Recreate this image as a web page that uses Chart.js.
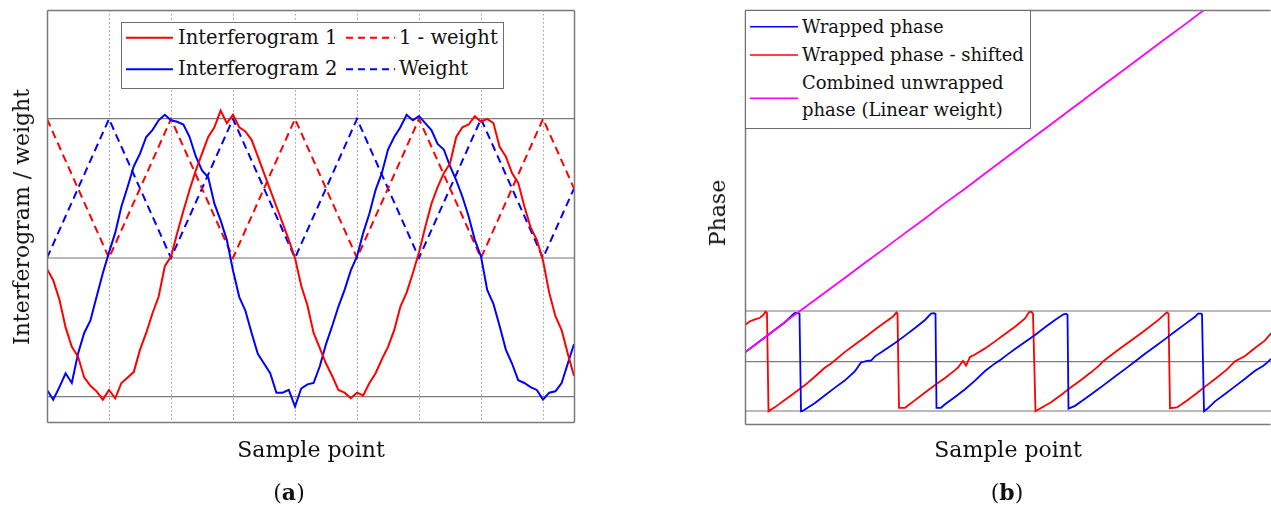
<!DOCTYPE html>
<html>
<head>
<meta charset="utf-8">
<script src="https://cdn.jsdelivr.net/npm/chart.js@4.4.0/dist/chart.umd.js"></script>
<style>
  html, body { margin: 0; padding: 0; background: #fff; }
  body { width: 1271px; height: 513px; position: relative; overflow: hidden;
         font-family: "DejaVu Serif", serif; color: #111; }
  .lbl { position: absolute; white-space: nowrap; line-height: 1; transform: translate(-50%, -50%); font-size: 22px; }
  .rot { transform: translate(-50%, -50%) rotate(-90deg); }
  #wrapA { position: absolute; left: 0; top: 0; width: 600px; height: 440px; }
  #wrapB { position: absolute; left: 650px; top: 0; width: 621px; height: 440px; }
  .legend { position: absolute; background: #fff; border: 1px solid #6e6e6e; }
  .legend svg { position: absolute; left: 0; top: 0; overflow: visible; }
  .legend span { position: absolute; white-space: nowrap; line-height: 1; transform: translateY(-50%); }
  #legA { left: 121px; top: 22px; width: 381px; height: 65px; font-size: 19.5px; }
  #legB { left: 745px; top: 10px; width: 284px; height: 117px; font-size: 18px; }
</style>
</head>
<body>
<div id="wrapA"><canvas id="chartA" width="600" height="440"></canvas></div>
<div id="wrapB"><canvas id="chartB" width="621" height="440"></canvas></div>

<div class="lbl rot" style="left:22px; top:217px;">Interferogram / weight</div>
<div class="lbl" style="left:311px; top:450px;">Sample point</div>
<div class="lbl" style="left:289px; top:492px;">(<b>a</b>)</div>
<div class="lbl rot" style="left:718px; top:213px;">Phase</div>
<div class="lbl" style="left:1008px; top:450px;">Sample point</div>
<div class="lbl" style="left:1007px; top:492px;">(<b>b</b>)</div>

<div class="legend" id="legA">
  <svg width="381" height="65">
    <line x1="4" y1="14.7" x2="51" y2="14.7" stroke="#ff0000" stroke-width="2"/>
    <line x1="4" y1="46.3" x2="51" y2="46.3" stroke="#0000ff" stroke-width="2"/>
    <line x1="224" y1="14.7" x2="273" y2="14.7" stroke="#ff0000" stroke-width="2" stroke-dasharray="7,5"/>
    <line x1="224" y1="46.3" x2="273" y2="46.3" stroke="#0000ff" stroke-width="2" stroke-dasharray="7,5"/>
  </svg>
  <span style="left:56px; top:14.7px;">Interferogram 1</span>
  <span style="left:56px; top:46.3px;">Interferogram 2</span>
  <span style="left:277px; top:14.7px;">1 - weight</span>
  <span style="left:277px; top:46.3px;">Weight</span>
</div>

<div class="legend" id="legB">
  <svg width="284" height="117">
    <line x1="4" y1="15.7" x2="52" y2="15.7" stroke="#0000ff" stroke-width="1.5"/>
    <line x1="4" y1="44" x2="52" y2="44" stroke="#ff0000" stroke-width="1.5"/>
    <line x1="4" y1="87.3" x2="52" y2="87.3" stroke="#ff00ff" stroke-width="1.5"/>
  </svg>
  <span style="left:56px; top:15.7px;">Wrapped phase</span>
  <span style="left:56px; top:44px;">Wrapped phase - shifted</span>
  <span style="left:56px; top:71.7px;">Combined unwrapped</span>
  <span style="left:56px; top:99px;">phase (Linear weight)</span>
</div>

<script>
// ---- panel (a): x in units of the dotted grid spacing ----
const sampleA = [
  0, 0.1, 0.2, 0.3, 0.4, 0.5, 0.6, 0.7, 0.8, 0.9,
  1, 1.1, 1.2, 1.3, 1.4, 1.5, 1.6, 1.7, 1.8, 1.9,
  2, 2.1, 2.2, 2.3, 2.4, 2.5, 2.6, 2.7, 2.8, 2.9,
  3, 3.1, 3.2, 3.3, 3.4, 3.5, 3.6, 3.7, 3.8, 3.9,
  4, 4.1, 4.2, 4.3, 4.4, 4.5, 4.6, 4.7, 4.8, 4.9,
  5, 5.1, 5.2, 5.3, 5.4, 5.5, 5.6, 5.7, 5.8, 5.9,
  6, 6.1, 6.2, 6.3, 6.4, 6.5, 6.6, 6.7, 6.8, 6.9,
  7, 7.1, 7.2, 7.3, 7.4, 7.5, 7.6, 7.7, 7.8, 7.9,
  8, 8.1, 8.2, 8.3, 8.4, 8.5
];
const interferogram1 = [
  0.46, 0.42, 0.35, 0.25, 0.18, 0.145, 0.07, 0.04, 0.02, -0.01,
  0.025, -0.005, 0.05, 0.07, 0.09, 0.17, 0.23, 0.30, 0.36, 0.47,
  0.505, 0.59, 0.67, 0.745, 0.815, 0.875, 0.935, 0.97, 1.03, 0.985,
  1.015, 0.97, 0.955, 0.925, 0.865, 0.805, 0.745, 0.685, 0.625, 0.565,
  0.50, 0.40, 0.33, 0.23, 0.175, 0.12, 0.075, 0.025, 0.015, -0.005,
  0.015, 0.005, 0.05, 0.085, 0.135, 0.18, 0.24, 0.325, 0.375, 0.445,
  0.52, 0.61, 0.695, 0.755, 0.805, 0.84, 0.935, 0.97, 0.98, 1.01,
  0.99, 1.0, 0.985, 0.90, 0.865, 0.805, 0.77, 0.685, 0.61, 0.565,
  0.49, 0.375, 0.29, 0.24, 0.155, 0.075
];
const interferogram2 = [
  0.025, -0.01, 0.035, 0.085, 0.05, 0.155, 0.23, 0.275, 0.36, 0.445,
  0.52, 0.59, 0.685, 0.755, 0.83, 0.875, 0.935, 0.96, 0.995, 1.015,
  0.995, 0.99, 0.98, 0.935, 0.865, 0.815, 0.79, 0.695, 0.635, 0.565,
  0.455, 0.36, 0.31, 0.23, 0.155, 0.12, 0.085, 0.015, 0.015, 0.025,
  -0.035, 0.03, 0.045, 0.05, 0.11, 0.19, 0.255, 0.325, 0.385, 0.455,
  0.505, 0.59, 0.66, 0.745, 0.805, 0.89, 0.935, 0.97, 1.015, 0.995,
  1.01, 0.985, 0.96, 0.91, 0.89, 0.83, 0.78, 0.72, 0.65, 0.565,
  0.505, 0.385, 0.335, 0.255, 0.17, 0.12, 0.06, 0.05, 0.035, 0.025,
  -0.01, 0.015, 0.02, 0.05, 0.12, 0.19
];
const weightX = [0, 1, 2, 3, 4, 5, 6, 7, 8, 8.52];
const weight = [0.5, 1, 0.5, 1, 0.5, 1, 0.5, 1, 0.5, 0.76];
const oneMinusWeight = [1, 0.5, 1, 0.5, 1, 0.5, 1, 0.5, 1, 0.74];
const gridTicksA = [1, 2, 3, 4, 5, 6, 7, 8];
const levelTicksA = [0, 0.5, 1];

// ---- panel (b): phase in radians ----
const combinedX = [0, 20, 40, 60, 80, 100, 120, 140, 160, 180, 200, 220,
  240, 260, 280, 300, 320, 340, 360, 380, 400, 420, 440, 460];
const combinedPhase = [0.55, 1.50, 2.46, 3.38, 4.30, 5.22, 6.16, 7.08, 8.02, 8.94, 9.90, 10.80,
  11.76, 12.70, 13.64, 14.56, 15.50, 16.44, 17.38, 18.30, 19.24, 20.18, 21.10, 22.05];

const wrappedX = [0, 20, 40, 48, 50, 53, 54.5, 56, 58, 70, 80, 90, 100, 110, 116, 122, 126, 130,
  140, 150, 160, 170, 180, 186, 189, 190.5, 191.5, 196, 200, 210, 220, 230, 240, 250, 256, 260,
  270, 280, 290, 300, 310, 318, 321, 322.5, 323.5, 330, 340, 350, 360, 370, 380, 390, 400,
  410, 420, 430, 440, 450, 453, 456, 457, 459, 462, 470, 480, 490, 500, 510, 518, 523, 526];
const wrappedPhase = [0.55, 1.50, 2.44, 2.92, 3.02, 3.02, 2.98, -3.14, -3.10, -2.62, -2.14, -1.66, -1.20, -0.62, -0.08, 0.02, 0.04, 0.30,
  0.72, 1.14, 1.60, 2.08, 2.58, 2.98, 3.00, 2.96, -2.93, -2.92, -2.70, -2.24, -1.76, -1.22, -0.62, -0.14, 0.10, 0.30,
  0.76, 1.20, 1.64, 2.12, 2.58, 2.92, 2.97, 2.90, -2.97, -2.80, -2.36, -1.90, -1.44, -0.96, -0.50, -0.02, 0.46,
  0.92, 1.38, 1.86, 2.32, 2.78, 2.98, 2.98, 2.94, -3.14, -3.00, -2.52, -2.06, -1.58, -1.10, -0.60, -0.30, -0.05, 0.15];

const shiftedX = [0, 5, 10, 15, 19, 20.5, 22, 23.5, 30, 40, 50, 60, 70, 80, 85, 90, 100, 110, 120, 130,
  140, 148, 151.5, 152.5, 154, 160, 170, 180, 190, 200, 210, 213, 218, 221, 225, 230, 240, 250, 260,
  270, 280, 284, 286.5, 288, 290.5, 296, 306, 316, 326, 336, 346, 354, 358, 364, 374, 384, 394, 404,
  414, 420, 422, 423.5, 425, 432, 442, 452, 462, 472, 482, 490, 500, 510, 520, 526];
const shiftedPhase = [2.27, 2.50, 2.62, 2.72, 2.95, 3.10, 3.02, -3.14, -2.88, -2.42, -1.96, -1.50, -0.96, -0.40, -0.20, 0.06, 0.58, 1.04, 1.50, 1.98,
  2.44, 2.80, 3.05, 2.98, -2.93, -2.92, -2.44, -1.96, -1.50, -1.06, -0.56, -0.40, 0.02, -0.28, 0.26, 0.42, 0.80, 1.24, 1.70,
  2.16, 2.68, 3.08, 3.10, 2.96, -3.14, -2.94, -2.58, -2.12, -1.64, -1.18, -0.70, -0.28, -0.02, 0.28, 0.74, 1.20, 1.66, 2.12,
  2.62, 2.96, 3.05, 2.98, -2.95, -2.90, -2.46, -2.00, -1.50, -1.02, -0.52, 0.0, 0.32, 0.82, 1.30, 1.75];
const levelTicksB = [-Math.PI, 0, Math.PI];

const pts = (xs, ys) => xs.map((x, i) => ({ x: x, y: ys[i] }));

// draws the plot frame on the chosen sides of the chart area
const framePlugin = {
  id: 'frame',
  afterDraw(chart, args, opts) {
    const { ctx, chartArea: a } = chart;
    const l = Math.round(a.left) + 0.5, r = Math.round(a.right) - 0.5;
    const t = Math.round(a.top) + 0.5, b = Math.round(a.bottom) - 0.5;
    ctx.save();
    ctx.strokeStyle = opts.color;
    ctx.lineWidth = opts.width;
    ctx.beginPath();
    if (opts.sides.includes('l')) { ctx.moveTo(l, t); ctx.lineTo(l, b); }
    if (opts.sides.includes('t')) { ctx.moveTo(l, t); ctx.lineTo(r, t); }
    if (opts.sides.includes('r')) { ctx.moveTo(r, t); ctx.lineTo(r, b); }
    if (opts.sides.includes('b')) { ctx.moveTo(l, b); ctx.lineTo(r, b); }
    ctx.stroke();
    ctx.restore();
  }
};

const baseOptions = (padding, frame) => ({
  responsive: false,
  animation: false,
  events: [],
  layout: { padding: padding },
  elements: { point: { radius: 0 }, line: { tension: 0, fill: false } },
  plugins: { legend: { display: false }, tooltip: { enabled: false }, frame: frame }
});

const optsA = baseOptions({ left: 47, top: 10, right: 25, bottom: 17 },
  { color: '#7a7a7a', width: 1.5, sides: 'ltrb' });
optsA.scales = {
  x: {
    type: 'linear', min: 0, max: 8.516,
    afterBuildTicks: s => { s.ticks = gridTicksA.map(v => ({ value: v })); },
    ticks: { display: false },
    border: { display: false, dash: [1.5, 2.5] },
    grid: { color: '#9a9a9a', lineWidth: 1, drawTicks: false }
  },
  y: {
    type: 'linear', min: -0.094, max: 1.392,
    afterBuildTicks: s => { s.ticks = levelTicksA.map(v => ({ value: v })); },
    ticks: { display: false },
    border: { display: false },
    grid: {
      drawTicks: false,
      color: c => (c.tick && c.tick.value === 0.5) ? '#b9b9b9' : '#7d7d7d',
      lineWidth: c => (c.tick && c.tick.value === 0.5) ? 2 : 1.2
    }
  }
};

new Chart(document.getElementById('chartA'), {
  type: 'line',
  data: {
    datasets: [
      { label: 'Interferogram 1', data: pts(sampleA, interferogram1), borderColor: '#ff0000', borderWidth: 2 },
      { label: 'Interferogram 2', data: pts(sampleA, interferogram2), borderColor: '#0000ff', borderWidth: 2 },
      { label: '1 - weight', data: pts(weightX, oneMinusWeight), borderColor: '#ff0000', borderWidth: 2, borderDash: [8, 5] },
      { label: 'Weight', data: pts(weightX, weight), borderColor: '#0000ff', borderWidth: 2, borderDash: [8, 5] }
    ]
  },
  options: optsA,
  plugins: [framePlugin]
});

const optsB = baseOptions({ left: 95, top: 10, right: 0, bottom: 15 },
  { color: '#7a7a7a', width: 1.5, sides: 'ltb' });
optsB.scales = {
  x: {
    type: 'linear', min: 0, max: 526,
    ticks: { display: false },
    border: { display: false },
    grid: { display: false, drawTicks: false }
  },
  y: {
    type: 'linear', min: -4, max: 22,
    afterBuildTicks: s => { s.ticks = levelTicksB.map(v => ({ value: v })); },
    ticks: { display: false },
    border: { display: false },
    grid: {
      drawTicks: false,
      color: c => (c.tick && c.tick.value === 0) ? '#7d7d7d' : '#b9b9b9',
      lineWidth: c => (c.tick && c.tick.value === 0) ? 1.2 : 2
    }
  }
};

new Chart(document.getElementById('chartB'), {
  type: 'line',
  data: {
    datasets: [
      { label: 'Combined unwrapped phase (Linear weight)', data: pts(combinedX, combinedPhase), borderColor: '#ff00ff', borderWidth: 1.8, order: 0 },
      { label: 'Wrapped phase', data: pts(wrappedX, wrappedPhase), borderColor: '#0000ff', borderWidth: 1.8, order: 1 },
      { label: 'Wrapped phase - shifted', data: pts(shiftedX, shiftedPhase), borderColor: '#ff0000', borderWidth: 1.8, order: 2 }
    ]
  },
  options: optsB,
  plugins: [framePlugin]
});
</script>
</body>
</html>
